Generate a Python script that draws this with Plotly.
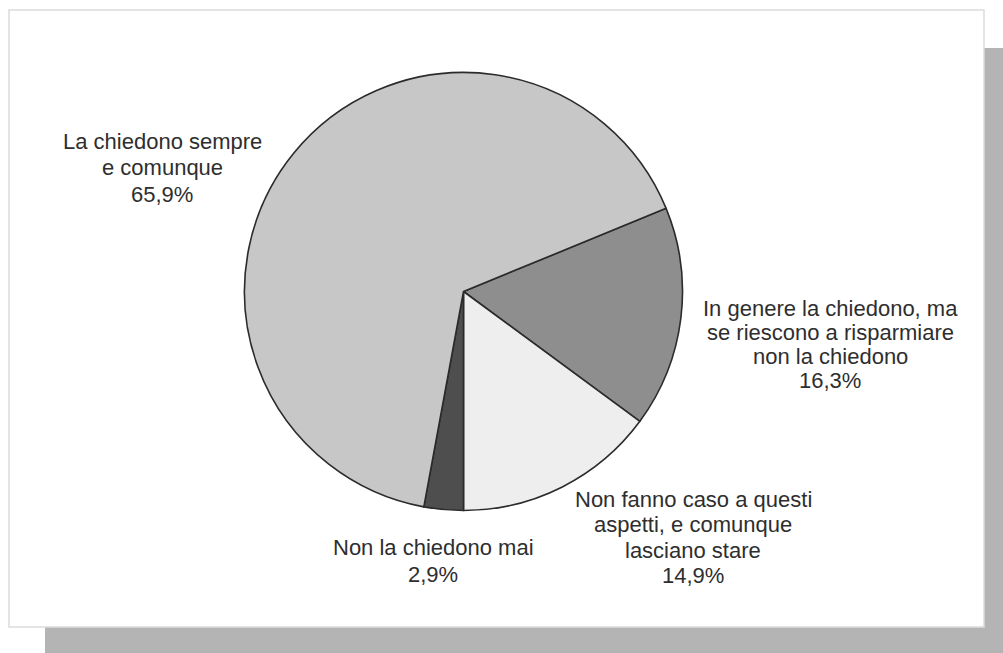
import plotly.graph_objects as go

# Survey answers (clockwise, starting just right of 12 o'clock's right side)
categories = [
    "In genere la chiedono, ma\nse riescono a risparmiare\nnon la chiedono",
    "Non fanno caso a questi\naspetti, e comunque\nlasciano stare",
    "Non la chiedono mai",
    "La chiedono sempre\ne comunque",
]
values = [16.3, 14.9, 2.9, 65.9]
slice_colors = ["#8e8e8e", "#eeeeee", "#4e4e4e", "#c7c7c7"]

# Label placement (pixel centre x, first-line centre y, line spacing)
label_x = [830, 693, 433, 162]
label_y = [308, 499.5, 547.5, 141.5]
line_step = [24.2, 25.3, 27, 26.5]

W, H = 1003, 653
cx, cy, r = 463.5, 291.5, 219


def px(x):
    return x / W


def py(y):
    return 1 - y / H


fig = go.Figure(
    go.Pie(
        values=values,
        labels=[c.replace("\n", " ") for c in categories],
        sort=False,
        direction="clockwise",
        rotation=180 - (values[0] + values[1]) * 3.6,
        marker=dict(colors=slice_colors, line=dict(color="#2b2b2b", width=1.6)),
        textinfo="none",
        hoverinfo="label+percent",
        domain=dict(x=[px(cx - r), px(cx + r)], y=[py(cy + r), py(cy - r)]),
        showlegend=False,
    )
)

annotations = []
for cat, val, x, y0, step in zip(categories, values, label_x, label_y, line_step):
    lines = cat.split("\n") + [f"{val:.1f}%".replace(".", ",")]
    for i, line in enumerate(lines):
        annotations.append(
            dict(
                x=px(x), y=py(y0 + i * step), xref="paper", yref="paper",
                text=line, showarrow=False, xanchor="center", yanchor="middle",
                font=dict(family="Liberation Sans, Arial, sans-serif", size=22, color="#2e2e2e"),
            )
        )

shapes = [
    # drop shadow
    dict(type="rect", xref="paper", yref="paper", layer="below",
         x0=px(45), x1=px(W), y0=py(H), y1=py(48),
         fillcolor="#b4b4b4", line=dict(width=0)),
    # white panel
    dict(type="rect", xref="paper", yref="paper", layer="below",
         x0=px(9), x1=px(984), y0=py(627), y1=py(10),
         fillcolor="#ffffff", line=dict(color="#dcdcdc", width=1.5)),
]

fig.update_layout(
    width=W, height=H,
    margin=dict(l=0, r=0, t=0, b=0),
    paper_bgcolor="#ffffff",
    plot_bgcolor="#ffffff",
    shapes=shapes,
    annotations=annotations,
)

fig.write_html("out.html")
